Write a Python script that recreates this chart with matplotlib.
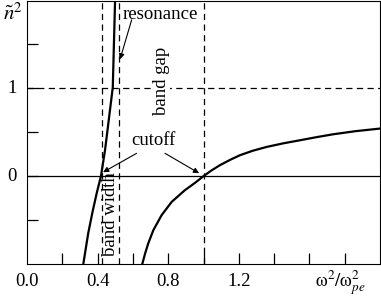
import matplotlib.pyplot as plt

plt.rcParams['font.family'] = ['Liberation Serif', 'DejaVu Serif']
plt.rcParams['mathtext.fontset'] = 'stix'

# lower branch (ends at the resonance)
x_low = [0.319, 0.347, 0.372, 0.395, 0.419, 0.442, 0.470, 0.486, 0.499]
n2_low = [-1.0, -0.648, -0.40, -0.193, 0.0, 0.295, 0.75, 1.011, 2.0]

# upper branch (starts below the cutoff at 1.0)
x_up = [0.653, 0.670, 0.687, 0.716, 0.763, 0.820, 0.895, 0.952, 1.0,
        1.045, 1.093, 1.150, 1.207, 1.280, 1.358, 1.450, 1.547, 1.640, 1.735, 1.860, 2.0]
n2_up = [-1.0, -0.875, -0.765, -0.614, -0.443, -0.292, -0.159, -0.076, 0.0,
         0.065, 0.125, 0.185, 0.239, 0.290, 0.333, 0.373, 0.409, 0.444, 0.477, 0.512, 0.542]

# dashed guide lines
v_lines = [0.423, 0.523, 1.0]
h_dash = 1.0

xticks = [0.2, 0.4, 0.6, 0.8, 1.0, 1.2, 1.4, 1.6, 1.8]
xlabels = ['0.0', '0.4', '0.8', '1.2']
yticks = [-0.5, 0.0, 0.5, 1.0, 1.5]

fig = plt.figure(figsize=(3.81, 2.96), dpi=100)
ax = fig.add_axes([27 / 381, 32 / 296, 353 / 381, 263.5 / 296])

dash = (0, (5, 3.5))
for xv in v_lines:
    ax.axvline(xv, color='k', lw=0.9, ls=dash)
ax.axhline(h_dash, color='k', lw=0.9, ls=dash)
ax.axhline(0, color='k', lw=0.9)

ax.plot(x_low, n2_low, color='k', lw=1.6)
ax.plot(x_up, n2_up, color='k', lw=1.6)

ax.set_xlim(0, 2.0)
ax.set_ylim(-1, 2)

ax.set_xticks(xticks)
ax.set_xticklabels([])
ax.set_yticks(yticks)
ax.set_yticklabels([])
ax.tick_params(direction='in', length=8, width=0.9)
for lab, xv in zip(xlabels, [0.0, 0.4, 0.8, 1.2]):
    ax.text(xv, -1.1, lab, ha='center', va='top', fontsize=13.5)
ax.text(-0.085, 0, '0', ha='center', va='center', fontsize=13.5)
ax.text(-0.085, 1, '1', ha='center', va='center', fontsize=13.5)

fig.text(13 / 381, 1 - 14 / 296, r'$\tilde{n}^2$', ha='center', va='center', fontsize=15)
fig.text(340 / 381, 1 - 283 / 296, r'$\mathrm{\omega}^2/\mathrm{\omega}_{pe}^2$',
         ha='center', va='center', fontsize=13.5)

arrow = dict(arrowstyle='-|>', lw=0.8, color='k', mutation_scale=8, shrinkA=0, shrinkB=0)
ax.text(0.544, 1.84, 'resonance', ha='left', va='center', fontsize=13.5)
ax.annotate('', xy=(0.527, 1.33), xytext=(0.593, 1.78), arrowprops=arrow)
ax.text(0.714, 0.41, 'cutoff', ha='center', va='center', fontsize=13.5)
ax.annotate('', xy=(0.431, 0.045), xytext=(0.621, 0.26), arrowprops=arrow)
ax.annotate('', xy=(0.975, 0.034), xytext=(0.782, 0.26), arrowprops=arrow)
ax.text(0.474, -0.43, 'band width', rotation=90, ha='center', va='center', fontsize=13.5)
ax.text(0.76, 1.08, 'band gap', rotation=90, ha='center', va='center', fontsize=13.5,
        bbox=dict(fc='white', ec='none', pad=0.3))

fig.savefig('out.png', dpi=100)
